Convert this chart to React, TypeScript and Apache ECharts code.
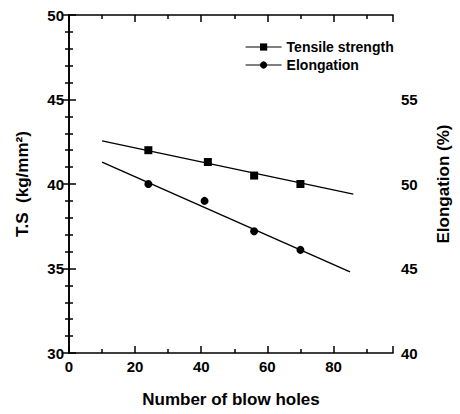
import React, { useEffect, useRef } from "react";
import * as echarts from "echarts";

const blowHolesTS = [24, 42, 56, 70];
const tensileStrength = [42.0, 41.3, 40.5, 40.0];
const blowHolesEl = [24, 41, 56, 70];
const elongation = [50.0, 49.0, 47.2, 46.1];
const tsFitX = [10, 86];
const tsFitY = [42.55, 39.4];
const elFitX = [10, 85];
const elFitY = [51.3, 44.8];

const FONT = "Liberation Sans, Arial, sans-serif";

function labelStyle() {
  return { fontFamily: FONT, fontSize: 15, fontWeight: "bold", color: "#000" };
}
function nameStyle() {
  return { fontFamily: FONT, fontSize: 17, fontWeight: "bold", color: "#000" };
}
function ticks(split: number) {
  return {
    axisLine: { show: true, lineStyle: { color: "#000", width: 1.6 } },
    splitLine: { show: false },
    axisTick: { show: true, inside: true, length: 7, lineStyle: { color: "#000", width: 1.5 } },
    minorTick: { show: true, splitNumber: split, length: 4, lineStyle: { color: "#000", width: 1.5 } },
  };
}

export default function App() {
  const ref = useRef<HTMLDivElement>(null);
  useEffect(() => {
    document.body.style.margin = "0";
    const chart = echarts.init(ref.current!, null, { renderer: "svg" });
    chart.setOption({
      animation: false,
      grid: { left: 69, right: 55, top: 15, bottom: 61 },
      legend: {
        orient: "vertical",
        left: 240,
        top: 35,
        itemWidth: 36,
        itemHeight: 9,
        itemGap: 4,
        textStyle: { fontFamily: FONT, fontSize: 14, fontWeight: "bold", color: "#000" },
        lineStyle: { color: "#000", width: 1.2, opacity: 1 },
        data: ["Tensile strength", "Elongation"],
      },
      xAxis: [
        {
          type: "value",
          min: 0,
          max: 98,
          interval: 20,
          position: "bottom",
          ...ticks(2),
          name: "Number of blow holes",
          nameLocation: "middle",
          nameGap: 38,
          nameTextStyle: nameStyle(),
          axisLabel: { ...labelStyle(), showMaxLabel: false, margin: 6 },
        },
        {
          type: "value",
          min: 0,
          max: 98,
          interval: 20,
          position: "top",
          ...ticks(2),
          axisLabel: { show: false },
        },
      ],
      yAxis: [
        {
          type: "value",
          min: 30,
          max: 50,
          interval: 5,
          position: "left",
          ...ticks(5),
          name: "T.S  (kg/mm\u00b2)",
          nameLocation: "middle",
          nameGap: 38,
          nameTextStyle: nameStyle(),
          axisLabel: { ...labelStyle(), margin: 5 },
        },
        {
          type: "value",
          min: 40,
          max: 60,
          interval: 5,
          position: "right",
          ...ticks(5),
          name: "Elongation (%)",
          nameLocation: "middle",
          nameGap: 42,
          nameTextStyle: nameStyle(),
          axisLabel: { ...labelStyle(), showMaxLabel: false, margin: 8 },
        },
      ],
      series: [
        {
          name: "Tensile strength",
          type: "line",
          xAxisIndex: 0,
          yAxisIndex: 0,
          data: blowHolesTS.map((x, i) => [x, tensileStrength[i]]),
          symbol: "rect",
          symbolSize: 8,
          itemStyle: { color: "#000" },
          lineStyle: { opacity: 0 },
        },
        {
          name: "Elongation",
          type: "line",
          xAxisIndex: 0,
          yAxisIndex: 1,
          data: blowHolesEl.map((x, i) => [x, elongation[i]]),
          symbol: "circle",
          symbolSize: 8,
          itemStyle: { color: "#000" },
          lineStyle: { opacity: 0 },
        },
        {
          name: "TS fit",
          type: "line",
          xAxisIndex: 0,
          yAxisIndex: 0,
          data: tsFitX.map((x, i) => [x, tsFitY[i]]),
          showSymbol: false,
          symbol: "none",
          lineStyle: { color: "#000", width: 1.4 },
        },
        {
          name: "El fit",
          type: "line",
          xAxisIndex: 0,
          yAxisIndex: 1,
          data: elFitX.map((x, i) => [x, elFitY[i]]),
          showSymbol: false,
          symbol: "none",
          lineStyle: { color: "#000", width: 1.4 },
        },
      ],
    });
    return () => chart.dispose();
  }, []);
  return <div ref={ref} style={{ width: 460, height: 414 }} />;
}
